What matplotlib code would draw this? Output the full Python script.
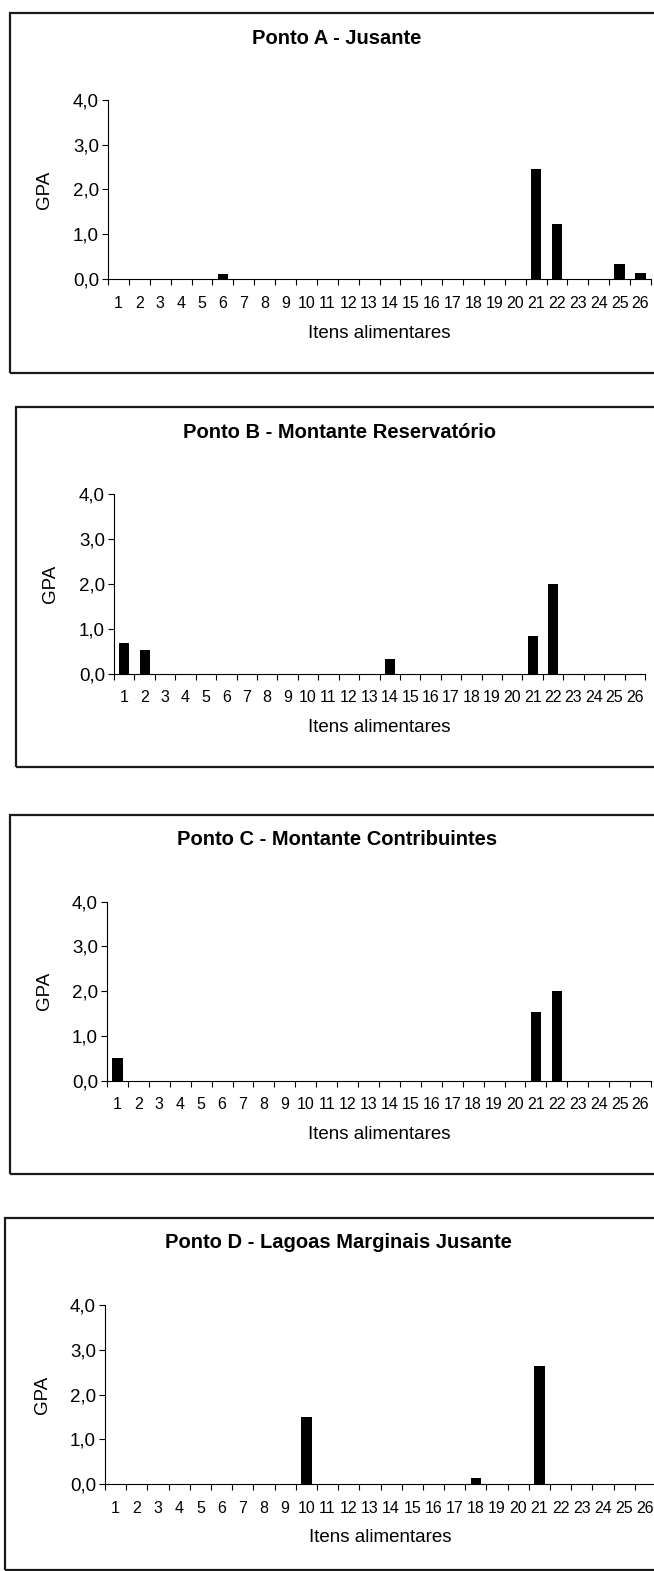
import matplotlib
matplotlib.use("Agg")
import matplotlib.pyplot as plt
from matplotlib.patches import Rectangle
import numpy as np

plt.rcParams["font.family"] = ["Liberation Sans", "DejaVu Sans"]

FIG_W, FIG_H = 654, 1571

items = list(range(1, 27))

gpa_a = [0, 0, 0, 0, 0, 0.12, 0, 0, 0, 0, 0, 0, 0, 0, 0, 0, 0, 0, 0, 0, 2.45, 1.22, 0, 0, 0.33, 0.13]
gpa_b = [0.68, 0.52, 0, 0, 0, 0, 0, 0, 0, 0, 0, 0, 0, 0.33, 0, 0, 0, 0, 0, 0, 0.83, 2.0, 0, 0, 0, 0]
gpa_c = [0.5, 0, 0, 0, 0, 0, 0, 0, 0, 0, 0, 0, 0, 0, 0, 0, 0, 0, 0, 0, 1.53, 2.0, 0, 0, 0, 0]
gpa_d = [0, 0, 0, 0, 0, 0, 0, 0, 0, 1.5, 0, 0, 0, 0, 0, 0, 0, 0.13, 0, 0, 2.63, 0, 0, 0, 0, 0]

titles = [
    "Ponto A - Jusante",
    "Ponto B - Montante Reservatório",
    "Ponto C - Montante Contribuintes",
    "Ponto D - Lagoas Marginais Jusante",
]
y_ticks = [0, 1, 2, 3, 4]
y_ticklabels = ["0,0", "1,0", "2,0", "3,0", "4,0"]

# pixel layout per panel: frame (left, top, bottom), axes (left, right, top, bottom), title (x, y)
panels = [
    dict(frame=(10, 12.5, 372.5), axes=(108, 651, 100, 279), title=(337, 38)),
    dict(frame=(16, 406.5, 766.5), axes=(114, 645, 494, 673.5), title=(340, 432)),
    dict(frame=(10, 814.5, 1174), axes=(107, 651, 901.5, 1080.5), title=(337, 839)),
    dict(frame=(5, 1217.5, 1570), axes=(105, 656, 1305, 1484), title=(338, 1243)),
]


def fx(px):
    return px / FIG_W


def fy(py):
    return 1 - py / FIG_H


def draw_panel(fig, layout, values, title):
    f_left, f_top, f_bottom = layout["frame"]
    fig.patches.append(Rectangle(
        (fx(f_left), fy(f_bottom)), fx(FIG_W + 20 - f_left), (f_bottom - f_top) / FIG_H,
        transform=fig.transFigure, fill=False, edgecolor="#1a1a1a", linewidth=1.6))

    a_left, a_right, a_top, a_bottom = layout["axes"]
    ax = fig.add_axes([fx(a_left), fy(a_bottom), (a_right - a_left) / FIG_W, (a_bottom - a_top) / FIG_H])
    ax.bar(items, values, width=0.5, color="black")
    ax.set_xlim(0.5, 26.5)
    ax.set_ylim(0, 4)

    for side in ("top", "right"):
        ax.spines[side].set_visible(False)
    ax.spines["left"].set_linewidth(0.8)
    ax.spines["bottom"].set_linewidth(0.8)

    ax.set_yticks(y_ticks)
    ax.set_yticklabels(y_ticklabels, fontsize=13.5)
    ax.tick_params(axis="y", direction="out", length=4, width=0.8, pad=2.5)

    ax.set_xticks(np.arange(0.5, 27, 1))
    ax.set_xticklabels([])
    ax.tick_params(axis="x", which="major", direction="out", length=4, width=0.8)
    ax.set_xticks(items, minor=True)
    ax.set_xticklabels([str(i) for i in items], minor=True, fontsize=11.5)
    ax.tick_params(axis="x", which="minor", length=0, pad=12)

    ax.set_xlabel("Itens alimentares", fontsize=13.5)
    ax.xaxis.set_label_coords(0.5, -54 / (a_bottom - a_top))
    ax.xaxis.label.set_va("center")
    ax.set_ylabel("GPA", fontsize=13.5)
    ax.yaxis.set_label_coords(-63 / (a_right - a_left), 0.5)
    ax.yaxis.label.set_va("center")

    t_x, t_y = layout["title"]
    fig.text(fx(t_x), fy(t_y), title, ha="center", va="center", fontsize=14.5, fontweight="bold")


fig = plt.figure(figsize=(FIG_W / 100, FIG_H / 100), dpi=100)
for layout, values, title in zip(panels, [gpa_a, gpa_b, gpa_c, gpa_d], titles):
    draw_panel(fig, layout, values, title)

fig.savefig("out.png", dpi=100)
